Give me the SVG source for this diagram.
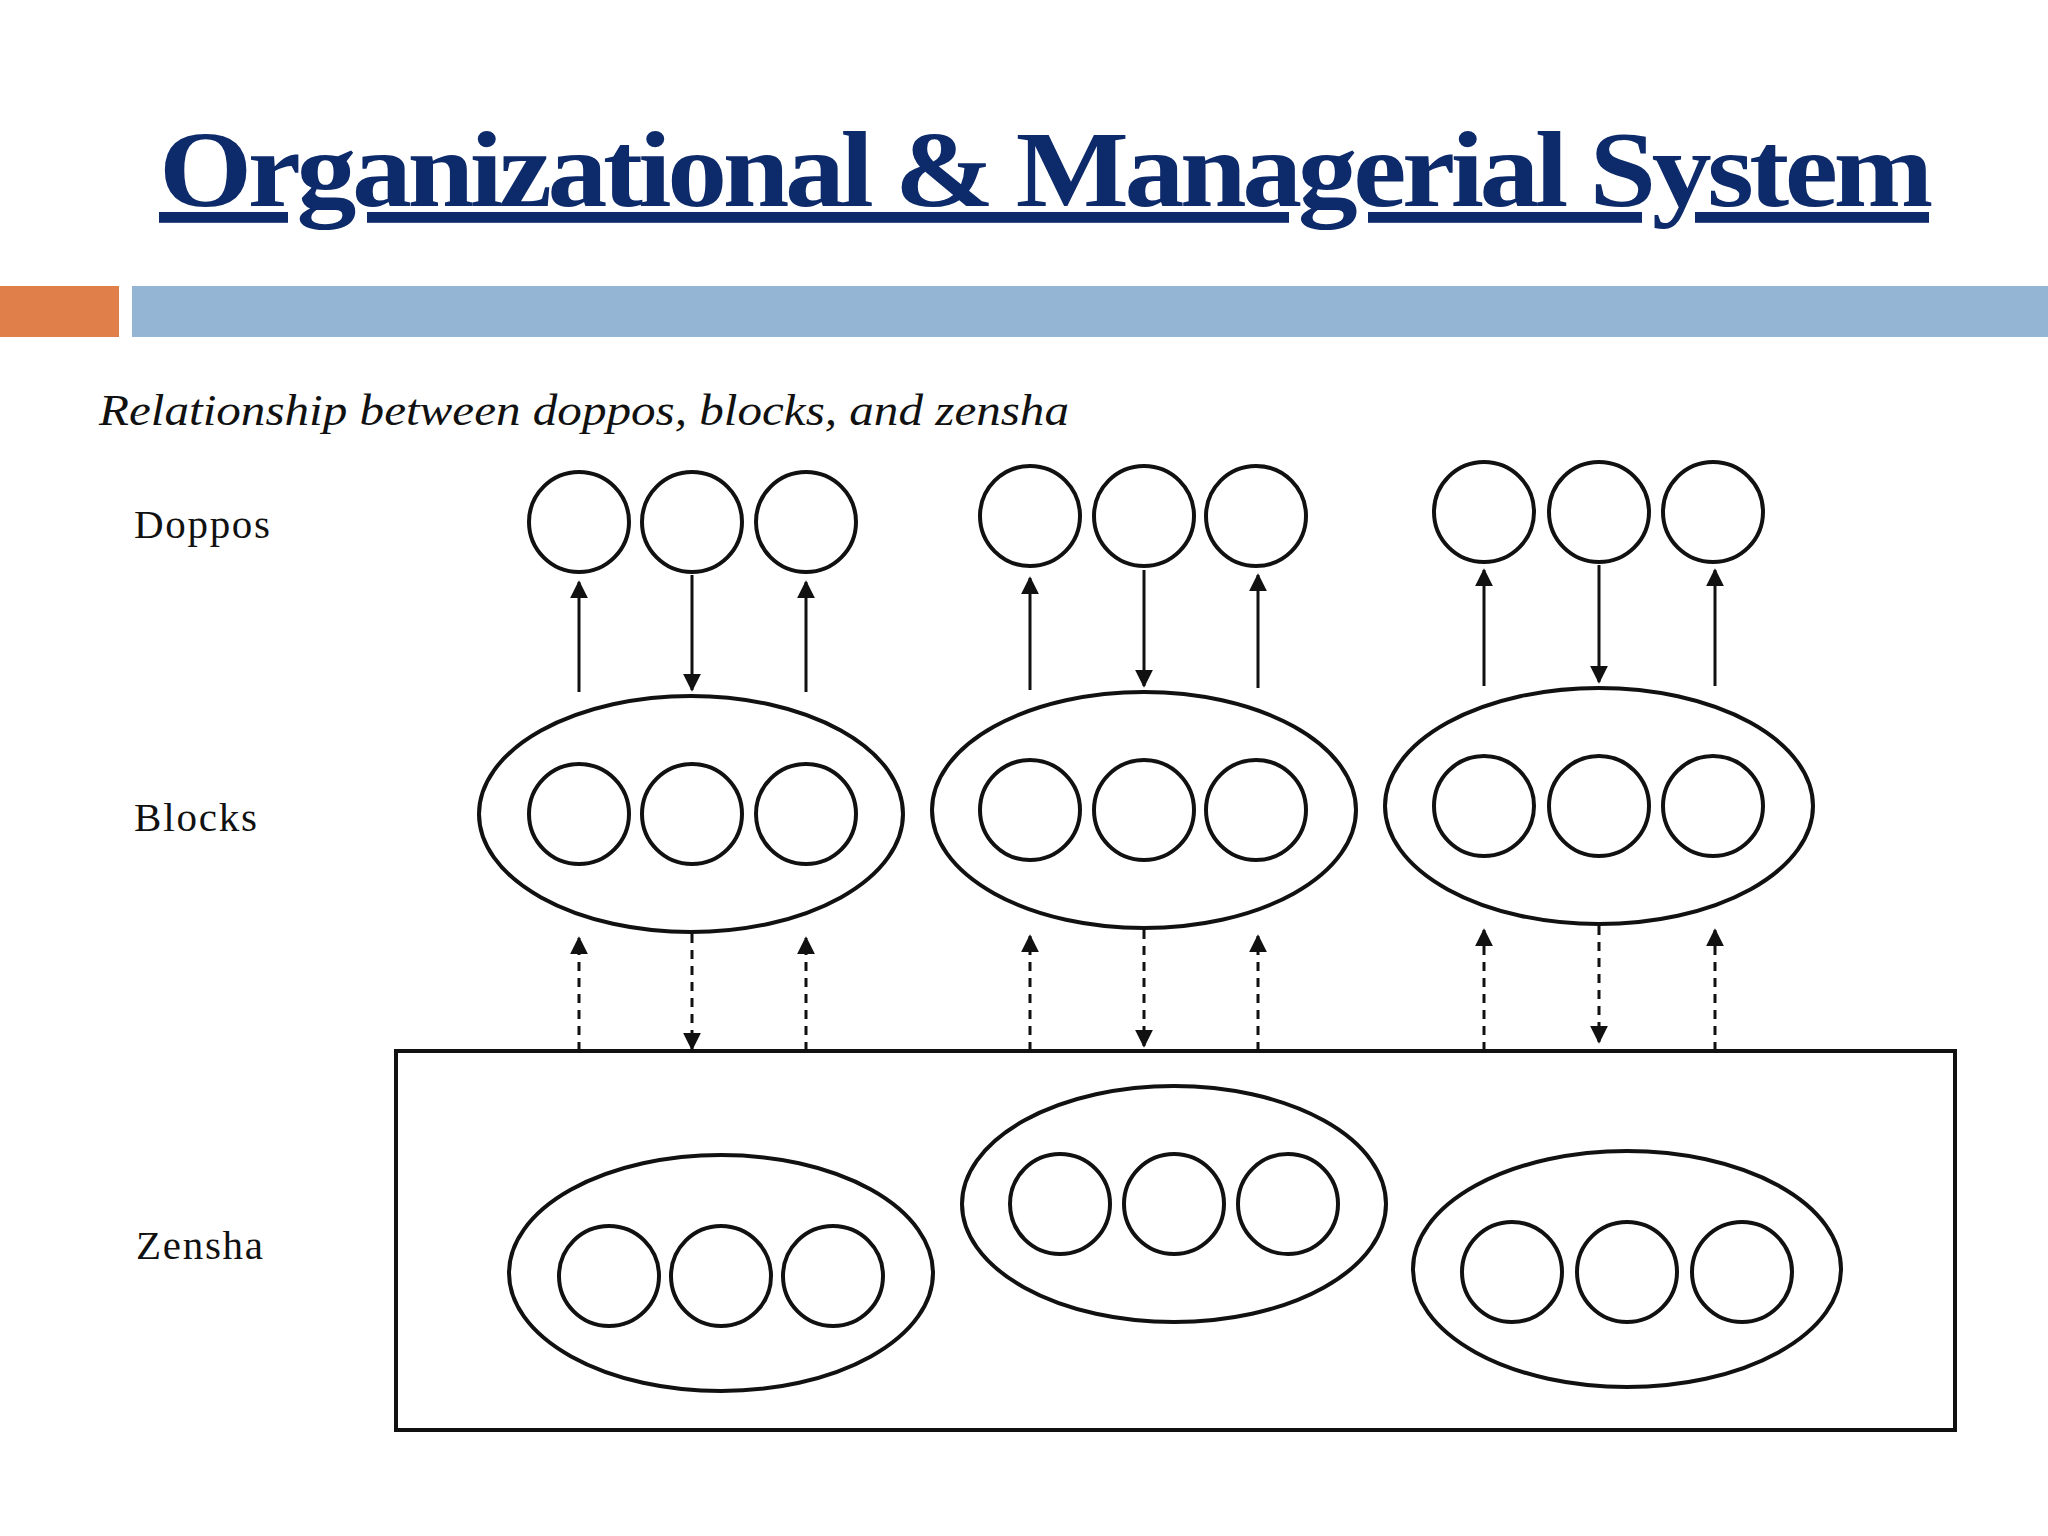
<svg xmlns="http://www.w3.org/2000/svg" width="2048" height="1536" viewBox="0 0 2048 1536">
<style>
.s{fill:none;stroke:#111;stroke-width:4}
.a{stroke:#111;stroke-width:3;fill:none}
.d{stroke:#111;stroke-width:3;fill:none;stroke-dasharray:9 7}
.l{font-family:"Liberation Serif",serif;font-size:41px;fill:#111}
</style>
<defs>
<marker id="ah" viewBox="0 0 10 10" refX="9" refY="5" markerWidth="6" markerHeight="6" orient="auto"><path d="M0,0 L10,5 L0,10 z" fill="#111"/></marker>
</defs>
<rect width="2048" height="1536" fill="#fff"/>
<text x="159" y="206" font-family="Liberation Serif,serif" font-weight="bold" font-size="108" fill="#0d2a6b" textLength="1770" lengthAdjust="spacingAndGlyphs" text-decoration="underline" letter-spacing="-4">Organizational &amp; Managerial System</text>
<rect x="0" y="286" width="119" height="51" fill="#e07f4a"/>
<rect x="132" y="286" width="1916" height="51" fill="#94b6d4"/>
<text x="99" y="425" font-family="Liberation Serif,serif" font-style="italic" font-size="44" fill="#111" textLength="970" lengthAdjust="spacingAndGlyphs">Relationship between doppos, blocks, and zensha</text>
<text class="l" x="134" y="538" textLength="136">Doppos</text>
<text class="l" x="134" y="831" textLength="123">Blocks</text>
<text class="l" x="136" y="1259" textLength="127">Zensha</text>
<g id="doppos1" class="s"><circle cx="579" cy="522" r="50"/><circle cx="692" cy="522" r="50"/><circle cx="806" cy="522" r="50"/></g>
<g id="doppos2" class="s"><circle cx="1030" cy="516" r="50"/><circle cx="1144" cy="516" r="50"/><circle cx="1256" cy="516" r="50"/></g>
<g id="doppos3" class="s"><circle cx="1484" cy="512" r="50"/><circle cx="1599" cy="512" r="50"/><circle cx="1713" cy="512" r="50"/></g>
<g id="block1" class="s"><ellipse cx="691" cy="814" rx="212" ry="118"/><circle cx="579" cy="814" r="50"/><circle cx="692" cy="814" r="50"/><circle cx="806" cy="814" r="50"/></g>
<g id="block2" class="s"><ellipse cx="1144" cy="810" rx="212" ry="118"/><circle cx="1030" cy="810" r="50"/><circle cx="1144" cy="810" r="50"/><circle cx="1256" cy="810" r="50"/></g>
<g id="block3" class="s"><ellipse cx="1599" cy="806" rx="214" ry="118"/><circle cx="1484" cy="806" r="50"/><circle cx="1599" cy="806" r="50"/><circle cx="1713" cy="806" r="50"/></g>
<g id="zensha" class="s">
<rect x="396" y="1051" width="1559" height="379"/>
<ellipse cx="721" cy="1273" rx="212" ry="118"/><circle cx="609" cy="1276" r="50"/><circle cx="721" cy="1276" r="50"/><circle cx="833" cy="1276" r="50"/>
<ellipse cx="1174" cy="1204" rx="212" ry="118"/><circle cx="1060" cy="1204" r="50"/><circle cx="1174" cy="1204" r="50"/><circle cx="1288" cy="1204" r="50"/>
<ellipse cx="1627" cy="1269" rx="214" ry="118"/><circle cx="1512" cy="1272" r="50"/><circle cx="1627" cy="1272" r="50"/><circle cx="1742" cy="1272" r="50"/>
</g>
<g id="connectors">
<g class="a">
<line x1="579" y1="692" x2="579" y2="582" marker-end="url(#ah)"/><line x1="692" y1="575" x2="692" y2="690" marker-end="url(#ah)"/><line x1="806" y1="692" x2="806" y2="582" marker-end="url(#ah)"/>
<line x1="1030" y1="690" x2="1030" y2="578" marker-end="url(#ah)"/><line x1="1144" y1="570" x2="1144" y2="686" marker-end="url(#ah)"/><line x1="1258" y1="688" x2="1258" y2="575" marker-end="url(#ah)"/>
<line x1="1484" y1="686" x2="1484" y2="570" marker-end="url(#ah)"/><line x1="1599" y1="565" x2="1599" y2="682" marker-end="url(#ah)"/><line x1="1715" y1="686" x2="1715" y2="570" marker-end="url(#ah)"/>
</g>
<g class="d">
<line x1="579" y1="1051" x2="579" y2="938" marker-end="url(#ah)"/><line x1="692" y1="934" x2="692" y2="1049" marker-end="url(#ah)"/><line x1="806" y1="1051" x2="806" y2="938" marker-end="url(#ah)"/>
<line x1="1030" y1="1051" x2="1030" y2="936" marker-end="url(#ah)"/><line x1="1144" y1="930" x2="1144" y2="1046" marker-end="url(#ah)"/><line x1="1258" y1="1051" x2="1258" y2="936" marker-end="url(#ah)"/>
<line x1="1484" y1="1051" x2="1484" y2="930" marker-end="url(#ah)"/><line x1="1599" y1="926" x2="1599" y2="1042" marker-end="url(#ah)"/><line x1="1715" y1="1051" x2="1715" y2="930" marker-end="url(#ah)"/>
</g>
</g>
</svg>
